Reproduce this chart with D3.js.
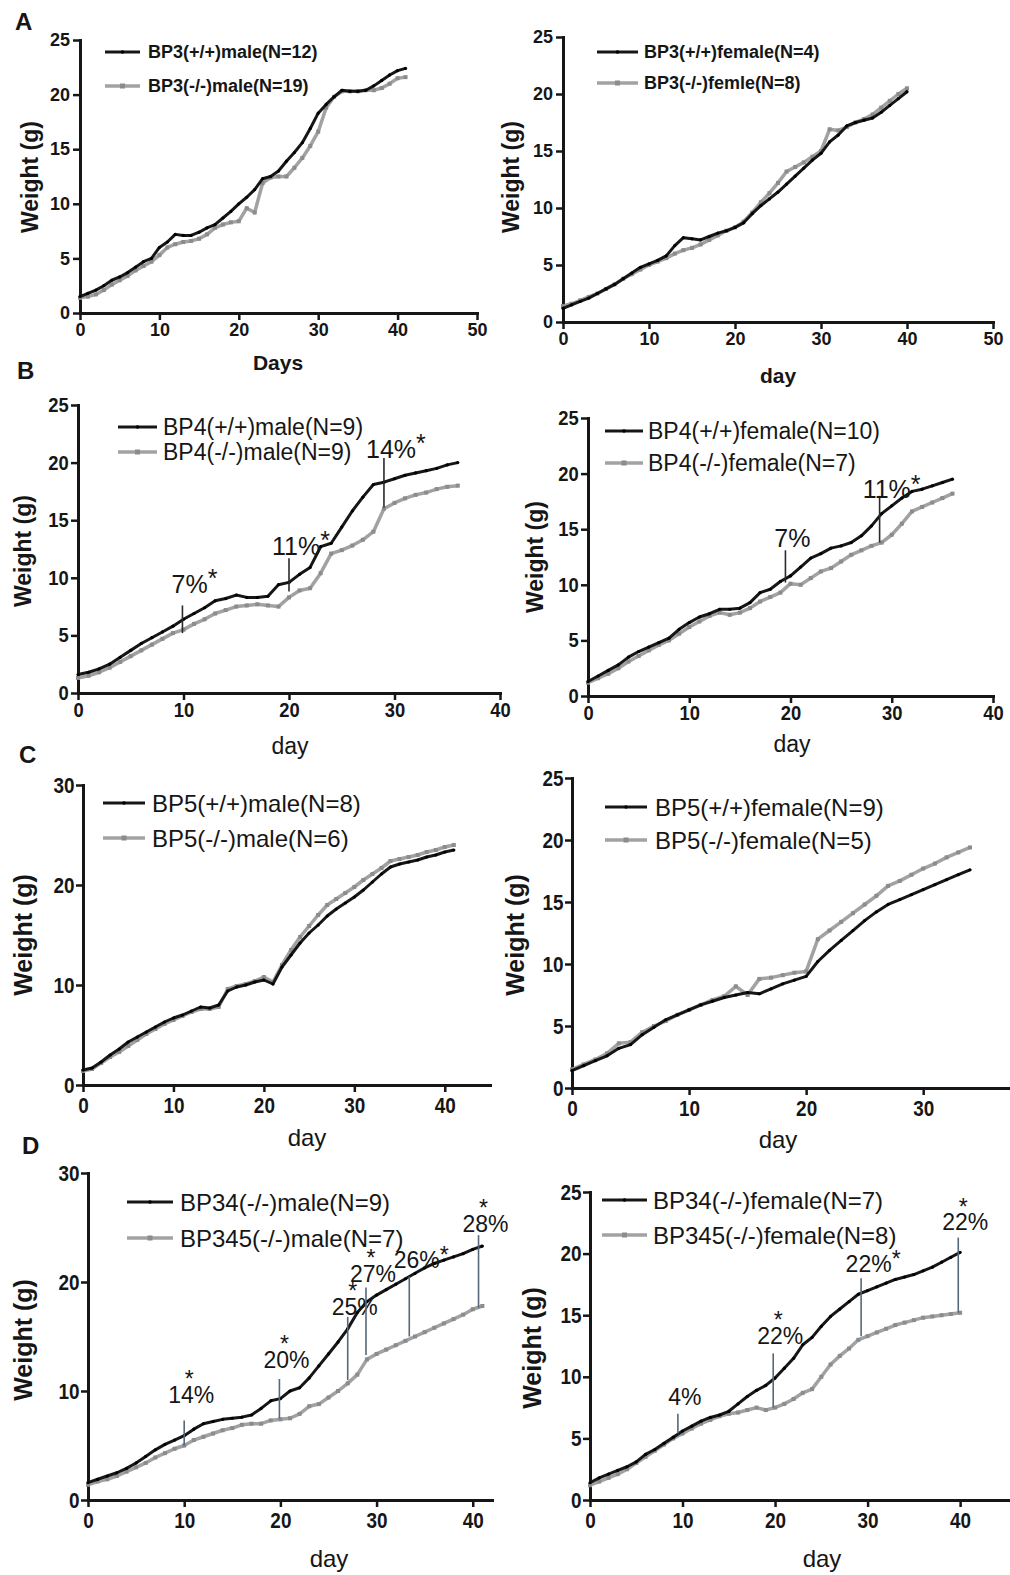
<!DOCTYPE html>
<html>
<head>
<meta charset="utf-8">
<script src="https://cdn.jsdelivr.net/npm/d3@7.9.0/dist/d3.min.js"></script>
<style>
  body { margin: 0; background: #fff; }
  svg { display: block; font-family: "Liberation Sans", Arial, sans-serif; }
</style>
</head>
<body>
<svg id="fig" width="1010" height="1575"></svg>
<script>
// ---- data ----
// A: BP3 male
const bp3MaleNames = ['BP3(+/+)male(N=12)', 'BP3(-/-)male(N=19)'];
const bp3MaleDays = [0,1,2,3,4,5,6,7,8,9,10,11,12,13,14,15,16,17,18,19,20,21,22,23,24,25,26,27,28,29,30,31,32,33,34,35,36,37,38,39,40,41];
const bp3MaleWT = [1.5,1.8,2.1,2.5,3.0,3.3,3.7,4.2,4.7,5.0,6.0,6.5,7.2,7.1,7.1,7.4,7.8,8.1,8.7,9.3,10.0,10.6,11.3,12.3,12.5,13.0,13.9,14.7,15.6,16.9,18.3,19.1,19.8,20.4,20.3,20.3,20.4,20.8,21.3,21.8,22.2,22.4];
const bp3MaleKO = [1.4,1.5,1.7,2.1,2.6,3.0,3.4,3.9,4.3,4.7,5.3,6.0,6.3,6.5,6.6,6.8,7.2,7.8,8.1,8.3,8.4,9.6,9.2,11.9,12.4,12.5,12.5,13.3,14.2,15.3,16.6,18.8,19.8,20.3,20.3,20.3,20.4,20.4,20.6,21.0,21.5,21.6];

// A: BP3 female
const bp3FemaleNames = ['BP3(+/+)female(N=4)', 'BP3(-/-)femle(N=8)'];
const bp3FemaleDays = [0,1,2,3,4,5,6,7,8,9,10,11,12,13,14,15,16,17,18,19,20,21,22,23,24,25,26,27,28,29,30,31,32,33,34,35,36,37,38,39,40];
const bp3FemaleWT = [1.2,1.5,1.8,2.1,2.5,2.9,3.3,3.8,4.3,4.8,5.1,5.4,5.8,6.7,7.4,7.3,7.2,7.5,7.8,8.0,8.3,8.7,9.5,10.2,10.8,11.4,12.1,12.8,13.5,14.2,14.8,15.8,16.4,17.2,17.5,17.7,17.9,18.4,19.0,19.6,20.2];
const bp3FemaleKO = [1.4,1.6,1.9,2.2,2.5,2.9,3.3,3.8,4.2,4.6,5.0,5.3,5.6,6.0,6.3,6.5,6.8,7.2,7.6,8.0,8.3,8.8,9.6,10.5,11.3,12.2,13.2,13.6,14.0,14.5,15.0,16.9,16.8,17.1,17.5,17.8,18.2,18.8,19.4,20.0,20.5];

// B: BP4 male
const bp4MaleNames = ['BP4(+/+)male(N=9)', 'BP4(-/-)male(N=9)'];
const bp4MaleDays = [0,1,2,3,4,5,6,7,8,9,10,11,12,13,14,15,16,17,18,19,20,21,22,23,24,25,26,27,28,29,30,31,32,33,34,35,36];
const bp4MaleWT = [1.6,1.8,2.1,2.5,3.1,3.7,4.3,4.8,5.3,5.8,6.4,6.9,7.4,8.0,8.2,8.5,8.3,8.3,8.4,9.4,9.6,10.3,10.9,12.7,13.0,14.4,15.8,17.0,18.1,18.3,18.6,18.9,19.1,19.3,19.5,19.8,20.0];
const bp4MaleKO = [1.3,1.5,1.8,2.2,2.7,3.2,3.7,4.2,4.7,5.2,5.5,6.0,6.4,6.9,7.2,7.5,7.6,7.7,7.6,7.5,8.3,8.9,9.1,10.4,12.1,12.4,12.8,13.3,14.0,16.0,16.5,16.9,17.2,17.4,17.7,17.9,18.0];
const bp4MaleAnnDays = [9.9, 20, 29];
const bp4MaleAnnHigh = [7.6, 11.7, 20.4];
const bp4MaleAnnLow = [5.2, 8.8, 16.1];
const bp4MaleAnnText = ['7%*', '11%*', '14%*'];
const bp4MaleAnnTextAt = [8.7, 12.0, 20.4];

// B: BP4 female
const bp4FemaleNames = ['BP4(+/+)female(N=10)', 'BP4(-/-)female(N=7)'];
const bp4FemaleDays = [0,1,2,3,4,5,6,7,8,9,10,11,12,13,14,15,16,17,18,19,20,21,22,23,24,25,26,27,28,29,30,31,32,33,34,35,36];
const bp4FemaleWT = [1.3,1.8,2.3,2.8,3.5,4.0,4.4,4.8,5.2,6.0,6.6,7.1,7.4,7.8,7.8,7.9,8.4,9.3,9.6,10.3,10.8,11.6,12.4,12.8,13.3,13.5,13.8,14.4,15.3,16.4,17.1,17.8,18.4,18.6,18.9,19.2,19.5];
const bp4FemaleKO = [1.2,1.6,2.0,2.5,3.1,3.6,4.1,4.6,5.0,5.6,6.2,6.7,7.2,7.5,7.3,7.5,7.9,8.5,8.9,9.3,10.1,10.0,10.6,11.2,11.5,12.1,12.7,13.1,13.5,13.8,14.5,15.5,16.6,17.0,17.4,17.8,18.2];
const bp4FemaleAnnDays = [19.5, 28.8];
const bp4FemaleAnnHigh = [13.1, 18.0];
const bp4FemaleAnnLow = [10.2, 13.8];
const bp4FemaleAnnText = ['7%', '11%*'];
const bp4FemaleAnnTextAt = [13.4, 17.8];

// C: BP5 male
const bp5MaleNames = ['BP5(+/+)male(N=8)', 'BP5(-/-)male(N=6)'];
const bp5MaleDays = [0,1,2,3,4,5,6,7,8,9,10,11,12,13,14,15,16,17,18,19,20,21,22,23,24,25,26,27,28,29,30,31,32,33,34,35,36,37,38,39,40,41];
const bp5MaleWT = [1.5,1.7,2.3,3.0,3.6,4.3,4.8,5.3,5.8,6.3,6.7,7.0,7.4,7.8,7.7,8.0,9.4,9.8,10.0,10.3,10.5,10.1,11.8,13.0,14.2,15.2,16.0,16.9,17.6,18.2,18.8,19.5,20.3,21.1,21.8,22.1,22.3,22.5,22.8,23.0,23.3,23.5];
const bp5MaleKO = [1.4,1.6,2.2,2.8,3.3,3.9,4.5,5.1,5.6,6.1,6.5,6.9,7.3,7.6,7.6,7.8,9.6,9.9,10.1,10.4,10.8,10.3,12.0,13.5,14.8,15.9,17.0,18.0,18.6,19.2,19.8,20.5,21.1,21.7,22.4,22.6,22.8,23.0,23.3,23.5,23.8,24.0];

// C: BP5 female
const bp5FemaleNames = ['BP5(+/+)female(N=9)', 'BP5(-/-)female(N=5)'];
const bp5FemaleDays = [0,1,2,3,4,5,6,7,8,9,10,11,12,13,14,15,16,17,18,19,20,21,22,23,24,25,26,27,28,29,30,31,32,33,34];
const bp5FemaleWT = [1.4,1.8,2.2,2.6,3.2,3.5,4.3,4.9,5.5,5.9,6.3,6.7,7.0,7.3,7.5,7.7,7.6,8.0,8.4,8.7,9.0,10.2,11.1,11.9,12.7,13.5,14.2,14.8,15.2,15.6,16.0,16.4,16.8,17.2,17.6];
const bp5FemaleKO = [1.5,1.9,2.3,2.8,3.6,3.7,4.5,5.0,5.4,5.9,6.3,6.7,7.1,7.4,8.2,7.5,8.8,8.9,9.1,9.3,9.4,12.0,12.7,13.4,14.1,14.8,15.5,16.3,16.7,17.2,17.7,18.1,18.6,19.0,19.4];

// D: BP34 vs BP345 male
const bp345MaleNames = ['BP34(-/-)male(N=9)', 'BP345(-/-)male(N=7)'];
const bp345MaleDays = [0,1,2,3,4,5,6,7,8,9,10,11,12,13,14,15,16,17,18,19,20,21,22,23,24,25,26,27,28,29,30,31,32,33,34,35,36,37,38,39,40,41];
const bp345MaleWT = [1.6,1.9,2.2,2.5,2.9,3.4,4.0,4.6,5.1,5.5,5.9,6.5,7.0,7.2,7.4,7.5,7.6,7.8,8.4,9.1,9.3,10.0,10.3,11.2,12.3,13.4,14.5,15.7,17.2,18.2,18.8,19.3,19.8,20.3,20.8,21.3,21.7,22.0,22.3,22.6,23.0,23.3];
const bp345MaleKO = [1.4,1.7,1.9,2.2,2.6,3.0,3.4,3.9,4.3,4.7,5.0,5.5,5.8,6.1,6.4,6.6,6.9,7.0,7.0,7.3,7.4,7.5,7.9,8.6,8.8,9.4,10.0,10.7,11.5,12.9,13.4,13.8,14.2,14.6,15.0,15.4,15.8,16.2,16.6,17.0,17.5,17.8];
const bp345MaleAnnDays = [10, 19.9, 27, 28.9, 33.4, 40.6];
const bp345MaleAnnHigh = [7.3, 11.1, 16.8, 19.5, 20.5, 24.3];
const bp345MaleAnnLow = [5.0, 7.5, 11.0, 13.3, 15.0, 17.6];
const bp345MaleAnnText = ['*14%', '*20%', '*25%', '*27%', '26%*', '*28%'];
const bp345MaleAnnTextAt = [8.9, 12.1, 17.0, 20.0, 21.3, 24.6];

// D: BP34 vs BP345 female
const bp345FemaleNames = ['BP34(-/-)female(N=7)', 'BP345(-/-)female(N=8)'];
const bp345FemaleDays = [0,1,2,3,4,5,6,7,8,9,10,11,12,13,14,15,16,17,18,19,20,21,22,23,24,25,26,27,28,29,30,31,32,33,34,35,36,37,38,39,40];
const bp345FemaleWT = [1.4,1.8,2.1,2.4,2.7,3.1,3.7,4.1,4.6,5.1,5.6,6.0,6.4,6.7,6.9,7.2,7.8,8.4,8.9,9.3,9.9,10.7,11.5,12.6,13.2,14.1,14.9,15.5,16.1,16.7,17.0,17.3,17.6,17.9,18.1,18.3,18.6,18.9,19.3,19.7,20.1];
const bp345FemaleKO = [1.2,1.5,1.8,2.1,2.5,3.0,3.5,4.0,4.5,5.0,5.4,5.8,6.2,6.5,6.8,7.0,7.1,7.3,7.5,7.3,7.5,7.8,8.2,8.7,9.0,10.0,11.0,11.7,12.3,13.0,13.3,13.6,13.9,14.2,14.4,14.6,14.8,14.9,15.0,15.1,15.2];
const bp345FemaleAnnDays = [9.5, 19.8, 29.3, 39.8];
const bp345FemaleAnnHigh = [7.0, 11.9, 18.0, 21.3];
const bp345FemaleAnnLow = [5.4, 7.5, 13.3, 15.2];
const bp345FemaleAnnText = ['4%', '*22%', '22%*', '*22%'];
const bp345FemaleAnnTextAt = [7.7, 12.7, 18.5, 21.9];

// ---- looks (type sizes per row) ----
const looks = {
  a: { legend: 18, legendWeight: 'bold', tick: 18, tickScale: 1, xTitle: 21, xTitleWeight: 'bold', yTitle: 23, ann: 23, pad: 3 },
  b: { legend: 23, legendWeight: 'normal', tick: 20, tickScale: 0.92, xTitle: 23, xTitleWeight: 'normal', yTitle: 23, ann: 25, pad: 3 },
  c: { legend: 24, legendWeight: 'normal', tick: 22, tickScale: 0.86, xTitle: 24, xTitleWeight: 'normal', yTitle: 25, ann: 23, pad: 5 }
};

const panels = [
  { tag: 'A', tagAt: [15, 30], look: 'a', names: bp3MaleNames, days: bp3MaleDays, wt: bp3MaleWT, ko: bp3MaleKO,
    xMax: 50, xRange: [80, 477], yMax: 25, yRange: [313, 40], xTicks: [0, 10, 20, 30, 40, 50], yTicks: [0, 5, 10, 15, 20, 25],
    xTitle: 'Days', xTitleAt: [278, 370], yTitleAt: [30, 177], legend: { x0: 105, x1: 140, tx: 148, ys: [52, 86] } },
  { look: 'a', names: bp3FemaleNames, days: bp3FemaleDays, wt: bp3FemaleWT, ko: bp3FemaleKO,
    xMax: 50, xRange: [563, 993], yMax: 25, yRange: [322, 37], xTicks: [0, 10, 20, 30, 40, 50], yTicks: [0, 5, 10, 15, 20, 25],
    xTitle: 'day', xTitleAt: [778, 383], yTitleAt: [511, 177], legend: { x0: 597, x1: 638, tx: 644, ys: [52, 83] } },
  { tag: 'B', tagAt: [17, 379], look: 'b', names: bp4MaleNames, days: bp4MaleDays, wt: bp4MaleWT, ko: bp4MaleKO,
    xMax: 40, xRange: [78, 500], yMax: 25, yRange: [693, 405], xTicks: [0, 10, 20, 30, 40], yTicks: [0, 5, 10, 15, 20, 25],
    xTitle: 'day', xTitleAt: [290, 754], yTitleAt: [23, 551], legend: { x0: 118, x1: 157, tx: 163, ys: [427, 452] },
    ann: { days: bp4MaleAnnDays, high: bp4MaleAnnHigh, low: bp4MaleAnnLow, text: bp4MaleAnnText, at: bp4MaleAnnTextAt }, annColor: '#2a2a2a' },
  { look: 'b', names: bp4FemaleNames, days: bp4FemaleDays, wt: bp4FemaleWT, ko: bp4FemaleKO,
    xMax: 40, xRange: [588, 993], yMax: 25, yRange: [696, 418], xTicks: [0, 10, 20, 30, 40], yTicks: [0, 5, 10, 15, 20, 25],
    xTitle: 'day', xTitleAt: [792, 752], yTitleAt: [535, 557], legend: { x0: 605, x1: 643, tx: 648, ys: [431, 463] },
    ann: { days: bp4FemaleAnnDays, high: bp4FemaleAnnHigh, low: bp4FemaleAnnLow, text: bp4FemaleAnnText, at: bp4FemaleAnnTextAt }, annColor: '#2a2a2a' },
  { tag: 'C', tagAt: [19, 763], look: 'c', names: bp5MaleNames, days: bp5MaleDays, wt: bp5MaleWT, ko: bp5MaleKO,
    xMax: 45, xRange: [83, 490], yMax: 30, yRange: [1085, 785], xTicks: [0, 10, 20, 30, 40], yTicks: [0, 10, 20, 30],
    xTitle: 'day', xTitleAt: [307, 1146], yTitleAt: [23, 935], legend: { x0: 103, x1: 145, tx: 152, ys: [803, 838] } },
  { look: 'c', names: bp5FemaleNames, days: bp5FemaleDays, wt: bp5FemaleWT, ko: bp5FemaleKO,
    xMax: 37.5, xRange: [572, 1011], yMax: 25, yRange: [1088, 778], xTicks: [0, 10, 20, 30], yTicks: [0, 5, 10, 15, 20, 25],
    xTitle: 'day', xTitleAt: [778, 1148], yTitleAt: [515, 935], legend: { x0: 605, x1: 647, tx: 655, ys: [807, 840] } },
  { tag: 'D', tagAt: [22, 1154], look: 'c', names: bp345MaleNames, days: bp345MaleDays, wt: bp345MaleWT, ko: bp345MaleKO,
    xMax: 42, xRange: [88, 492], yMax: 30, yRange: [1500, 1173], xTicks: [0, 10, 20, 30, 40], yTicks: [0, 10, 20, 30],
    xTitle: 'day', xTitleAt: [329, 1567], yTitleAt: [23, 1340], legend: { x0: 127, x1: 173, tx: 180, ys: [1202, 1238] },
    ann: { days: bp345MaleAnnDays, high: bp345MaleAnnHigh, low: bp345MaleAnnLow, text: bp345MaleAnnText, at: bp345MaleAnnTextAt }, annColor: '#56687a' },
  { look: 'c', names: bp345FemaleNames, days: bp345FemaleDays, wt: bp345FemaleWT, ko: bp345FemaleKO,
    xMax: 45.5, xRange: [590, 1011], yMax: 25, yRange: [1500, 1192], xTicks: [0, 10, 20, 30, 40], yTicks: [0, 5, 10, 15, 20, 25],
    xTitle: 'day', xTitleAt: [822, 1567], yTitleAt: [532, 1348], legend: { x0: 602, x1: 647, tx: 653, ys: [1200, 1235] },
    ann: { days: bp345FemaleAnnDays, high: bp345FemaleAnnHigh, low: bp345FemaleAnnLow, text: bp345FemaleAnnText, at: bp345FemaleAnnTextAt }, annColor: '#56687a' }
];

const ink = '#161616';
const grey = '#a2a2a2';
const greyMark = '#8c8c8c';
const fig = d3.select('#fig');

function drawPanel(p) {
  const f = looks[p.look];
  const g = fig.append('g');
  const x = d3.scaleLinear().domain([0, p.xMax]).range(p.xRange);
  const y = d3.scaleLinear().domain([0, p.yMax]).range(p.yRange);

  // axes
  const xAxis = g.append('g')
    .attr('transform', `translate(0,${p.yRange[0]})`)
    .call(d3.axisBottom(x).tickValues(p.xTicks).tickSize(7).tickSizeOuter(0).tickPadding(f.pad));
  const yAxis = g.append('g')
    .attr('transform', `translate(${p.xRange[0]},0)`)
    .call(d3.axisLeft(y).tickValues(p.yTicks).tickSize(7).tickSizeOuter(0).tickPadding(3));
  [xAxis, yAxis].forEach(a => {
    a.select('.domain').attr('stroke', ink).attr('stroke-width', 3).attr('stroke-linecap', 'square');
    a.selectAll('.tick line').attr('stroke', ink).attr('stroke-width', 2.5);
    a.selectAll('.tick text')
      .attr('fill', ink)
      .attr('transform', `scale(${f.tickScale},1)`)
      .style('font-size', f.tick + 'px')
      .style('font-weight', 'bold');
  });

  // series: knockout (grey) under, reference (black) on top
  const wtPts = p.days.map((d, i) => [d, p.wt[i]]);
  const koPts = p.days.map((d, i) => [d, p.ko[i]]);
  const line = d3.line().x(d => x(d[0])).y(d => y(d[1]));

  g.append('path').datum(koPts)
    .attr('d', line).attr('fill', 'none').attr('stroke', grey).attr('stroke-width', 3.5).attr('stroke-linejoin', 'round');
  g.append('g').selectAll('rect').data(koPts).join('rect')
    .attr('x', d => x(d[0]) - 2).attr('y', d => y(d[1]) - 2).attr('width', 4).attr('height', 4).attr('fill', greyMark);

  g.append('path').datum(wtPts)
    .attr('d', line).attr('fill', 'none').attr('stroke', ink).attr('stroke-width', 3).attr('stroke-linejoin', 'round');
  g.append('g').selectAll('circle').data(wtPts).join('circle')
    .attr('cx', d => x(d[0])).attr('cy', d => y(d[1])).attr('r', 1.6).attr('fill', '#000');

  // significance brackets
  if (p.ann) {
    const a = p.ann;
    a.days.forEach((d, i) => {
      const cx = x(d);
      g.append('line')
        .attr('x1', cx).attr('x2', cx).attr('y1', y(a.high[i])).attr('y2', y(a.low[i]))
        .attr('stroke', p.annColor).attr('stroke-width', 1.6);
      let label = a.text[i];
      const starAbove = label.startsWith('*');
      const starAfter = label.endsWith('*');
      label = label.replace(/\*/g, '');
      const ty = y(a.at[i]);
      const t = g.append('text')
        .attr('x', cx + 7).attr('y', ty)
        .attr('text-anchor', 'middle')
        .attr('fill', ink)
        .style('font-size', f.ann + 'px')
        .text(label);
      if (starAfter) {
        t.attr('x', cx + 12);
        t.append('tspan').attr('dy', '-0.22em').text('*');
      }
      if (starAbove) {
        g.append('text')
          .attr('x', cx + 5).attr('y', ty - f.ann * 0.68)
          .attr('text-anchor', 'middle')
          .attr('fill', ink)
          .style('font-size', f.ann + 'px')
          .text('*');
      }
    });
  }

  // legend
  const lg = p.legend;
  [[ink, 3, 'dot'], [grey, 3.5, 'square']].forEach(([col, w, mk], i) => {
    const ly = lg.ys[i];
    g.append('line').attr('x1', lg.x0).attr('x2', lg.x1).attr('y1', ly).attr('y2', ly)
      .attr('stroke', col).attr('stroke-width', w);
    const mx = (lg.x0 + lg.x1) / 2;
    if (mk === 'dot') {
      g.append('circle').attr('cx', mx).attr('cy', ly).attr('r', 1.8).attr('fill', '#000');
    } else {
      g.append('rect').attr('x', mx - 2.5).attr('y', ly - 2.5).attr('width', 5).attr('height', 5).attr('fill', greyMark);
    }
    g.append('text')
      .attr('x', lg.tx).attr('y', ly)
      .attr('dominant-baseline', 'central')
      .attr('fill', ink)
      .style('font-size', f.legend + 'px')
      .style('font-weight', f.legendWeight)
      .text(p.names[i]);
  });

  // axis titles
  g.append('text')
    .attr('x', p.xTitleAt[0]).attr('y', p.xTitleAt[1])
    .attr('text-anchor', 'middle')
    .attr('fill', ink)
    .style('font-size', f.xTitle + 'px')
    .style('font-weight', f.xTitleWeight)
    .text(p.xTitle);
  g.append('text')
    .attr('transform', `translate(${p.yTitleAt[0]},${p.yTitleAt[1]}) rotate(-90)`)
    .attr('text-anchor', 'middle')
    .attr('dominant-baseline', 'central')
    .attr('fill', ink)
    .style('font-size', f.yTitle + 'px')
    .style('font-weight', 'bold')
    .text('Weight (g)');

  // panel letter
  if (p.tag) {
    fig.append('text')
      .attr('x', p.tagAt[0]).attr('y', p.tagAt[1])
      .attr('fill', ink)
      .style('font-size', '24px')
      .style('font-weight', 'bold')
      .text(p.tag);
  }
}

panels.forEach(drawPanel);
</script>
</body>
</html>
